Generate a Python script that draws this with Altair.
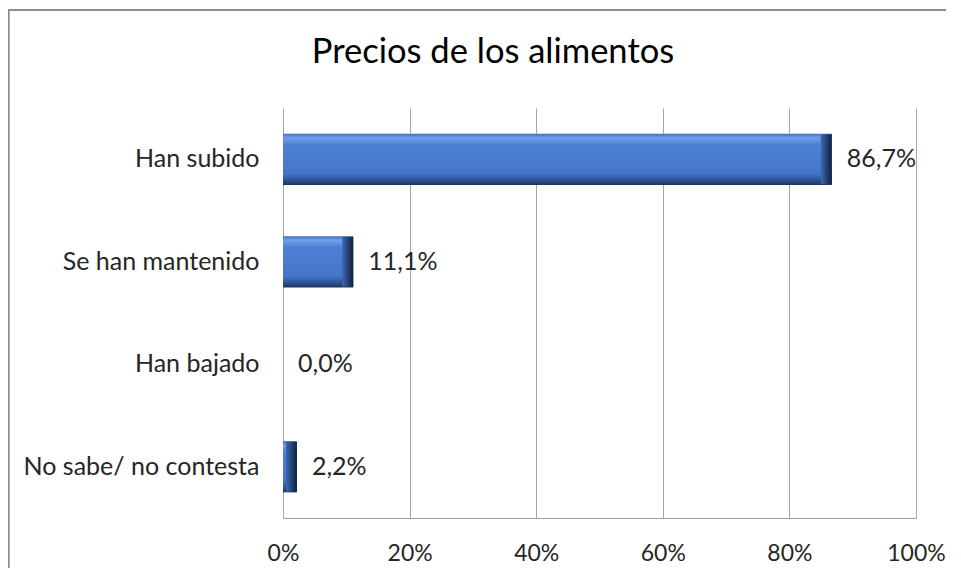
import altair as alt
import pandas as pd

title_text = "Precios de los alimentos"
categories = ["Han subido", "Se han mantenido", "Han bajado", "No sabe/ no contesta"]
values = [86.7, 11.1, 0.0, 2.2]
labels = [f"{v:.1f}%".replace(".", ",") for v in values]
x_ticks = [0, 20, 40, 60, 80, 100]

df = pd.DataFrame({"cat": categories, "val": values, "label": labels})

FONT = "Lato"
TXT = "#262626"

y_enc = alt.Y("cat:N", sort=categories, title=None,
              scale=alt.Scale(paddingInner=0.5, paddingOuter=0.25),
              axis=alt.Axis(labelFontSize=25, labelColor=TXT, labelFont=FONT,
                            ticks=False, domain=False, labelPadding=24, grid=False,
                            labelLimit=400))
x_enc = alt.X("val:Q", title=None,
              scale=alt.Scale(domain=[0, 100], nice=False),
              axis=alt.Axis(values=x_ticks, labelExpr="datum.value + '%'",
                            labelFontSize=23, labelColor=TXT, labelFont=FONT,
                            labelFlush=False,
                            ticks=False, domain=True, domainColor="#a0a0a0",
                            gridColor="#a6a6a6", grid=True, labelPadding=24))

bar_grad = alt.Gradient(
    gradient="linear", x1=0, x2=0, y1=0, y2=1,
    stops=[
        alt.GradientStop(offset=0.0, color="#3e6dbf"),
        alt.GradientStop(offset=0.08, color="#70a0ec"),
        alt.GradientStop(offset=0.22, color="#4d80d3"),
        alt.GradientStop(offset=0.78, color="#4575c8"),
        alt.GradientStop(offset=0.9, color="#2e5597"),
        alt.GradientStop(offset=1.0, color="#1c335e"),
    ],
)
edge_grad = alt.Gradient(
    gradient="linear", x1=0, x2=1, y1=0, y2=0,
    stops=[
        alt.GradientStop(offset=0.0, color="#3d68b5"),
        alt.GradientStop(offset=1.0, color="#111f3d"),
    ],
)

bars = alt.Chart(df).mark_bar(fill=bar_grad).encode(
    x=x_enc, y=y_enc
)
edge = alt.Chart(df).transform_filter("datum.val > 0").mark_tick(
    fill=edge_grad, thickness=11, size=50, xOffset=-5.5, opacity=1
).encode(x="val:Q", y=alt.Y("cat:N", sort=categories))

text = alt.Chart(df).mark_text(align="left", baseline="middle", dx=15,
                               fontSize=25, font=FONT, color=TXT).encode(
    x="val:Q", y=alt.Y("cat:N", sort=categories), text="label:N"
)

title = alt.Chart(pd.DataFrame({"t": [title_text]})).mark_text(
    align="center", baseline="alphabetic", fontSize=34.5, font=FONT,
    color="#000000", clip=False
).encode(x=alt.value(210), y=alt.value(-45), text="t:N")

frame_top = alt.Chart(df).mark_rule(color="#8c8c8c", strokeWidth=1.5, clip=False).encode(
    x=alt.value(-274.5), x2=alt.value(720), y=alt.value(-98)
)
frame_left = alt.Chart(df).mark_rule(color="#8c8c8c", strokeWidth=1.5, clip=False).encode(
    x=alt.value(-274.5), y=alt.value(-98), y2=alt.value(600)
)

chart = alt.layer(bars, edge, text, title, frame_top, frame_left).properties(
    width=633, height=410,
    autosize=alt.AutoSizeParams(type="none"),
    padding={"left": 275, "top": 100, "right": 30, "bottom": 50},
).configure_view(stroke=None)

chart.save("out.html", embed_options={"renderer": "svg", "actions": False})
